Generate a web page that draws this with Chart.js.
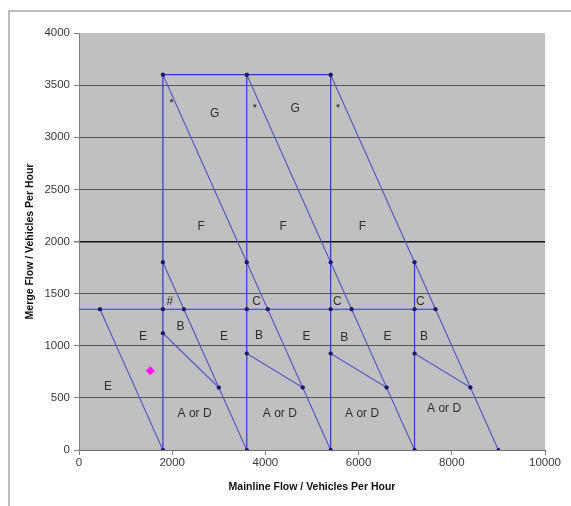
<!DOCTYPE html>
<html>
<head>
<meta charset="utf-8">
<script src="https://cdn.jsdelivr.net/npm/chart.js@4.4.1/dist/chart.umd.min.js"></script>
<style>
  html, body { margin: 0; padding: 0; background: #fff; }
  #wrap { position: relative; width: 571px; height: 506px; overflow: hidden; }
  #frame { position: absolute; left: 8px; top: 10px; width: 700px; height: 600px;
           border-left: 2px solid #bcbcbc; border-top: 2px solid #bcbcbc; }
  canvas { position: absolute; left: 0; top: 0; }
</style>
</head>
<body>
<div id="wrap">
  <div id="frame"></div>
  <canvas id="chart" width="571" height="506"></canvas>
</div>
<script>
// --- DATA ---
const xTicks = [0, 2000, 4000, 6000, 8000, 10000];
const yTicks = [0, 500, 1000, 1500, 2000, 2500, 3000, 3500, 4000];

// vertical boundaries (x, and the node heights along each)
const verticalX = [1800, 3600, 5400, 7200];
const verticalNodes = [
    [0, 1120, 1350, 1800, 3600],
    [0, 925, 1350, 1800, 3600],
    [0, 925, 1350, 1800, 3600],
    [0, 925, 1350, 1800],
];

// capacity line along the top
const topY = 3600;
const topX = [1800, 3600, 5400];

// horizontal line at 1350 (no marker at x = 0)
const midY = 1350;
const midX = [0, 450, 1800, 2250, 3600, 4050, 5400, 5850, 7200, 7650];

// falling diagonals
const diagX = [
    [450, 1800],
    [1800, 2250, 3000, 3600],
    [1800, 3600, 4050, 4800, 5400],
    [3600, 5400, 5850, 6600, 7200],
    [5400, 7200, 7650, 8400, 9000],
];
const diagY = [
    [1350, 0],
    [1800, 1350, 600, 0],
    [3600, 1800, 1350, 600, 0],
    [3600, 1800, 1350, 600, 0],
    [3600, 1800, 1350, 600, 0],
];

// B boundaries
const bStartX = [1800, 3600, 5400, 7200];
const bStartY = [1120, 925, 925, 925];
const bEndX = [3000, 4800, 6600, 8400];
const bEndY = [600, 600, 600, 600];

// observed point
const obsX = [1530];
const obsY = [760];

// region labels
const labelText = ['G', 'G', '*', '*', '*', 'F', 'F', 'F', '#', 'C', 'C', 'C',
                   'B', 'B', 'B', 'B', 'E', 'E', 'E', 'E', 'E',
                   'A or D', 'A or D', 'A or D', 'A or D'];
const labelX = [2910, 4640, 1985, 3770, 5560, 2620, 4380, 6080, 1950, 3810, 5545, 7325,
                2180, 3865, 5690, 7405, 1375, 3110, 4880, 6620, 620,
                2480, 4310, 6075, 7835];
const labelY = [3230, 3275, 3330, 3285, 3285, 2140, 2140, 2140, 1425, 1425, 1425, 1425,
                1180, 1095, 1080, 1090, 1090, 1090, 1090, 1090, 610,
                350, 350, 350, 395];

// --- BUILD DATASETS ---
const strongBlue = '#3434d4';
const softBlue = '#5a5ac6';
const nodeColor = '#1c1c6a';

function lineSet(points, color, radii) {
    return {
        data: points,
        showLine: true,
        borderColor: color,
        borderWidth: 1.2,
        pointRadius: radii || 2,
        pointBackgroundColor: nodeColor,
        pointBorderWidth: 0,
        fill: false
    };
}

const datasets = [];
verticalX.forEach((x, i) => {
    datasets.push(lineSet(verticalNodes[i].map(y => ({x: x, y: y})), strongBlue));
});
datasets.push(lineSet(topX.map(x => ({x: x, y: topY})), strongBlue));
datasets.push(lineSet(midX.map(x => ({x: x, y: midY})), strongBlue, midX.map(x => x === 0 ? 0 : 2)));
diagX.forEach((xs, i) => {
    datasets.push(lineSet(xs.map((x, j) => ({x: x, y: diagY[i][j]})), softBlue));
});
bStartX.forEach((x, i) => {
    datasets.push(lineSet([{x: x, y: bStartY[i]}, {x: bEndX[i], y: bEndY[i]}], softBlue));
});
datasets.push({
    data: obsX.map((x, i) => ({x: x, y: obsY[i]})),
    showLine: false,
    pointStyle: 'rectRot',
    pointRadius: 4.5,
    pointBackgroundColor: '#ff10f0',
    pointBorderColor: '#ff60f0',
    pointBorderWidth: 1
});

// --- PLUGINS ---
const plotBackground = {
    id: 'plotBackground',
    beforeDraw(chart) {
        const {ctx, chartArea: a} = chart;
        ctx.save();
        ctx.fillStyle = '#c0c0c0';
        ctx.fillRect(a.left, a.top, a.right - a.left, a.bottom - a.top);
        ctx.restore();
    }
};

const regionLabels = {
    id: 'regionLabels',
    afterDatasetsDraw(chart) {
        const {ctx, scales: {x, y}} = chart;
        ctx.save();
        ctx.fillStyle = '#2e2e2e';
        ctx.textAlign = 'center';
        ctx.textBaseline = 'middle';
        labelText.forEach((t, i) => {
            ctx.font = (t === '*' ? 'bold 9px' : '12px') + ' "Liberation Sans", Arial, sans-serif';
            ctx.fillText(t, x.getPixelForValue(labelX[i]), y.getPixelForValue(labelY[i]));
        });
        ctx.restore();
    }
};

const tickFont = { family: '"Liberation Sans", Arial, sans-serif', size: 11.5 };
const titleFont = { family: '"Liberation Sans", Arial, sans-serif', size: 10.5, weight: 'bold' };
const plainNumber = v => String(v);

new Chart(document.getElementById('chart'), {
    type: 'scatter',
    data: { datasets: datasets },
    options: {
        responsive: false,
        animation: false,
        layout: { padding: { top: 33, right: 26, left: 0, bottom: 0 } },
        plugins: { legend: { display: false }, tooltip: { enabled: false } },
        scales: {
            x: {
                type: 'linear',
                min: xTicks[0],
                max: xTicks[xTicks.length - 1],
                afterBuildTicks: s => { s.ticks = xTicks.map(v => ({value: v})); },
                afterFit: s => { s.height = 56; },
                grid: { drawOnChartArea: false, tickLength: 5, tickColor: '#808080' },
                border: { color: '#707070' },
                ticks: { color: '#3a3a3a', font: tickFont, padding: 1, maxRotation: 0, callback: plainNumber },
                title: { display: true, text: 'Mainline Flow / Vehicles Per Hour',
                         color: '#111', font: titleFont, padding: { bottom: 13 } }
            },
            y: {
                type: 'linear',
                min: yTicks[0],
                max: yTicks[yTicks.length - 1],
                afterBuildTicks: s => { s.ticks = yTicks.map(v => ({value: v})); },
                afterFit: s => { s.width = 79; },
                grid: {
                    tickLength: 5,
                    tickColor: '#808080',
                    color: c => c.tick.value === 4000 ? 'rgba(0,0,0,0)' :
                                (c.tick.value === 2000 ? '#111' : '#555'),
                    lineWidth: c => c.tick.value === 2000 ? 1.5 : 1
                },
                border: { color: '#808080' },
                ticks: { color: '#3a3a3a', font: tickFont, padding: 4, callback: plainNumber },
                title: { display: true, text: 'Merge Flow / Vehicles Per Hour',
                         color: '#111', font: titleFont, padding: { top: 24 } }
            }
        }
    },
    plugins: [plotBackground, regionLabels]
});
</script>
</body>
</html>
